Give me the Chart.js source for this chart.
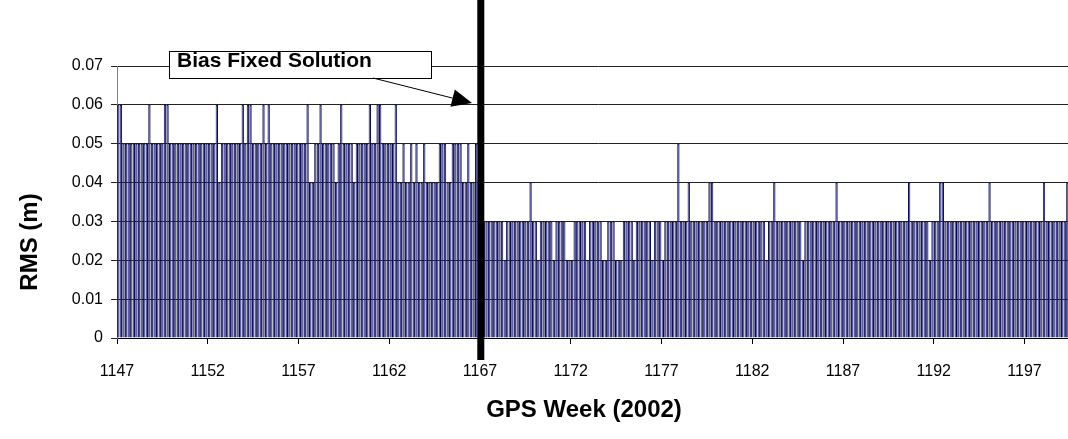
<!DOCTYPE html>
<html>
<head>
<meta charset="utf-8">
<script src="https://cdn.jsdelivr.net/npm/chart.js@4/dist/chart.umd.min.js"></script>
<style>
  html, body { margin: 0; padding: 0; background: #fff; overflow: hidden; }
  #wrap { position: relative; width: 1090px; height: 439px; }
</style>
</head>
<body>
<div id="wrap"><canvas id="rmsChart"></canvas></div>
<script>
// GPS weeks shown as tick labels (one tick every 5 weeks = 35 days)
const weekTicks = ['1147', '1152', '1157', '1162', '1167', '1172', '1177', '1182', '1187', '1192', '1197'];
const yTickLabels = ['0', '0.01', '0.02', '0.03', '0.04', '0.05', '0.06', '0.07'];
const firstWeek = 1147;
const fixedWeek = 1167; // bias fixed solution starts here

// Daily RMS (m), one row per GPS week (7 days)
const rmsDaily = [
    0.06, 0.06, 0.05, 0.05, 0.05, 0.05, 0.05,   // 1147
    0.05, 0.05, 0.05, 0.05, 0.05, 0.06, 0.05,   // 1148
    0.05, 0.05, 0.05, 0.05, 0.06, 0.06, 0.05,   // 1149
    0.05, 0.05, 0.05, 0.05, 0.05, 0.05, 0.05,   // 1150
    0.05, 0.05, 0.05, 0.05, 0.05, 0.05, 0.05,   // 1151
    0.05, 0.05, 0.05, 0.06, 0.04, 0.05, 0.05,   // 1152
    0.05, 0.05, 0.05, 0.05, 0.05, 0.05, 0.06,   // 1153
    0.05, 0.06, 0.06, 0.05, 0.05, 0.05, 0.05,   // 1154
    0.06, 0.05, 0.06, 0.05, 0.05, 0.05, 0.05,   // 1155
    0.05, 0.05, 0.05, 0.05, 0.05, 0.05, 0.05,   // 1156
    0.05, 0.05, 0.05, 0.06, 0.04, 0.04, 0.05,   // 1157
    0.05, 0.06, 0.05, 0.05, 0.05, 0.05, 0.05,   // 1158
    0.04, 0.05, 0.06, 0.05, 0.05, 0.05, 0.05,   // 1159
    0.04, 0.05, 0.05, 0.05, 0.05, 0.05, 0.06,   // 1160
    0.05, 0.05, 0.06, 0.06, 0.05, 0.05, 0.05,   // 1161
    0.05, 0.05, 0.06, 0.04, 0.04, 0.05, 0.04,   // 1162
    0.04, 0.05, 0.04, 0.05, 0.04, 0.04, 0.05,   // 1163
    0.04, 0.04, 0.04, 0.04, 0.04, 0.05, 0.05,   // 1164
    0.05, 0.04, 0.04, 0.05, 0.05, 0.05, 0.05,   // 1165
    0.04, 0.04, 0.05, 0.04, 0.04, 0.05, 0.04,   // 1166
    0.03, 0.03, 0.03, 0.03, 0.03, 0.03, 0.03,   // 1167
    0.03, 0.03, 0.02, 0.03, 0.03, 0.03, 0.03,   // 1168
    0.03, 0.03, 0.03, 0.03, 0.03, 0.04, 0.03,   // 1169
    0.03, 0.02, 0.03, 0.03, 0.03, 0.03, 0.03,   // 1170
    0.02, 0.03, 0.03, 0.03, 0.03, 0.02, 0.02,   // 1171
    0.02, 0.03, 0.03, 0.03, 0.03, 0.03, 0.02,   // 1172
    0.03, 0.03, 0.03, 0.03, 0.03, 0.02, 0.02,   // 1173
    0.03, 0.03, 0.03, 0.02, 0.02, 0.02, 0.03,   // 1174
    0.03, 0.03, 0.03, 0.02, 0.03, 0.03, 0.03,   // 1175
    0.03, 0.03, 0.03, 0.02, 0.03, 0.03, 0.03,   // 1176
    0.02, 0.03, 0.03, 0.03, 0.03, 0.03, 0.05,   // 1177
    0.03, 0.03, 0.03, 0.04, 0.03, 0.03, 0.03,   // 1178
    0.03, 0.03, 0.03, 0.03, 0.04, 0.04, 0.03,   // 1179
    0.03, 0.03, 0.03, 0.03, 0.03, 0.03, 0.03,   // 1180
    0.03, 0.03, 0.03, 0.03, 0.03, 0.03, 0.03,   // 1181
    0.03, 0.03, 0.03, 0.03, 0.03, 0.02, 0.03,   // 1182
    0.03, 0.04, 0.03, 0.03, 0.03, 0.03, 0.03,   // 1183
    0.03, 0.03, 0.03, 0.03, 0.03, 0.02, 0.03,   // 1184
    0.03, 0.03, 0.03, 0.03, 0.03, 0.03, 0.03,   // 1185
    0.03, 0.03, 0.03, 0.03, 0.04, 0.03, 0.03,   // 1186
    0.03, 0.03, 0.03, 0.03, 0.03, 0.03, 0.03,   // 1187
    0.03, 0.03, 0.03, 0.03, 0.03, 0.03, 0.03,   // 1188
    0.03, 0.03, 0.03, 0.03, 0.03, 0.03, 0.03,   // 1189
    0.03, 0.03, 0.03, 0.03, 0.04, 0.03, 0.03,   // 1190
    0.03, 0.03, 0.03, 0.03, 0.03, 0.02, 0.03,   // 1191
    0.03, 0.03, 0.04, 0.04, 0.03, 0.03, 0.03,   // 1192
    0.03, 0.03, 0.03, 0.03, 0.03, 0.03, 0.03,   // 1193
    0.03, 0.03, 0.03, 0.03, 0.03, 0.03, 0.03,   // 1194
    0.04, 0.03, 0.03, 0.03, 0.03, 0.03, 0.03,   // 1195
    0.03, 0.03, 0.03, 0.03, 0.03, 0.03, 0.03,   // 1196
    0.03, 0.03, 0.03, 0.03, 0.03, 0.03, 0.03,   // 1197
    0.04, 0.03, 0.03, 0.03, 0.03, 0.03, 0.03,   // 1198
    0.03, 0.03, 0.04, 0.03, 0.03, 0.03, 0.03    // 1199
];

const FONT = '"Liberation Sans", Arial, sans-serif';

// bars sit on a linear day axis so ticks land on day boundaries
const barPoints = rmsDaily.map((v, i) => ({ x: i + 0.5, y: v }));
const tickDays = weekTicks.map(w => (parseInt(w) - firstWeek) * 7);

// annotations: thick marker line, callout box, arrow, axis titles
const decorPlugin = {
    id: 'decor',
    afterDraw(chart) {
        const ctx = chart.ctx;
        const xs = chart.scales.x;
        ctx.save();

        // black marker at start of bias fixed solution
        const lineX = xs.getPixelForValue((fixedWeek - firstWeek) * 7 + 0.3);
        ctx.fillStyle = '#000';
        ctx.fillRect(lineX - 3.5, 0, 7, 360);

        // callout box
        ctx.fillStyle = '#fff';
        ctx.fillRect(169, 51, 262, 27);
        ctx.strokeStyle = '#000';
        ctx.lineWidth = 1;
        ctx.strokeRect(169.5, 51.5, 262, 27);
        ctx.fillStyle = '#000';
        ctx.font = 'bold 21px ' + FONT;
        ctx.textBaseline = 'alphabetic';
        ctx.textAlign = 'left';
        ctx.fillText('Bias Fixed Solution', 177, 67);

        // arrow
        const x0 = 373, y0 = 78, x1 = 472, y1 = 103;
        const len = Math.hypot(x1 - x0, y1 - y0);
        const ux = (x1 - x0) / len, uy = (y1 - y0) / len;
        const bx = x1 - ux * 20, by = y1 - uy * 20;
        ctx.beginPath();
        ctx.moveTo(x0, y0);
        ctx.lineTo(bx, by);
        ctx.stroke();
        ctx.beginPath();
        ctx.moveTo(x1, y1);
        ctx.lineTo(bx - uy * 9, by + ux * 9);
        ctx.lineTo(bx + uy * 9, by - ux * 9);
        ctx.closePath();
        ctx.fill();

        // axis titles
        ctx.font = 'bold 24px ' + FONT;
        ctx.textAlign = 'center';
        ctx.textBaseline = 'middle';
        ctx.fillText('GPS Week (2002)', 584, 410);
        ctx.translate(30, 242);
        ctx.rotate(-Math.PI / 2);
        ctx.fillText('RMS (m)', 0, 0);
        ctx.restore();
    }
};

new Chart(document.getElementById('rmsChart'), {
    type: 'bar',
    data: {
        datasets: [{
            data: barPoints,
            backgroundColor: '#6e6ee0',
            borderColor: '#0a0a4e',
            borderWidth: 1,
            barPercentage: 0.9,
            categoryPercentage: 1.0
        }]
    },
    options: {
        responsive: true,
        maintainAspectRatio: false,
        animation: false,
        events: [],
        layout: { padding: { left: 0, right: 11, top: 66, bottom: 0 } },
        plugins: {
            legend: { display: false },
            tooltip: { enabled: false }
        },
        scales: {
            x: {
                type: 'linear',
                offset: false,
                min: 0,
                max: rmsDaily.length,
                afterBuildTicks: scale => {
                    scale.ticks = tickDays.map(v => ({ value: v }));
                },
                afterFit: scale => { scale.height = 101; },
                ticks: {
                    color: '#000',
                    font: { family: FONT, size: 16 },
                    padding: 18,
                    maxRotation: 0,
                    autoSkip: false,
                    callback: (v, i) => weekTicks[i]
                },
                grid: {
                    offset: false,
                    drawOnChartArea: false,
                    drawTicks: true,
                    tickLength: 6,
                    color: '#000'
                },
                border: { color: '#000', width: 1 }
            },
            y: {
                min: 0,
                max: 0.07,
                afterBuildTicks: scale => {
                    scale.ticks = yTickLabels.map(t => ({ value: parseFloat(t) }));
                },
                afterFit: scale => { scale.width = 117; },
                ticks: {
                    color: '#000',
                    font: { family: FONT, size: 16 },
                    padding: 8,
                    callback: (v, i) => yTickLabels[i]
                },
                grid: {
                    color: '#222',
                    tickLength: 6,
                    lineWidth: 1
                },
                border: { color: '#808080', width: 1 }
            }
        }
    },
    plugins: [decorPlugin]
});
</script>
</body>
</html>
